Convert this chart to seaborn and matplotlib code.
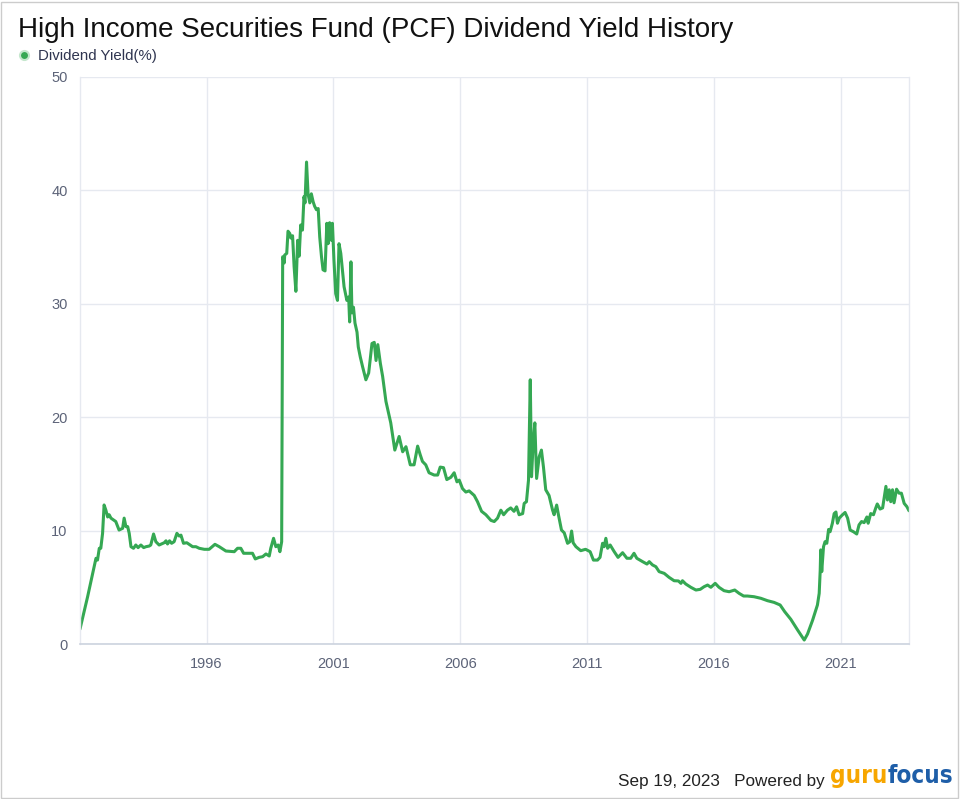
import numpy as np
import pandas as pd
import matplotlib
matplotlib.use("Agg")
import matplotlib.pyplot as plt
from matplotlib.lines import Line2D
from matplotlib.patches import Rectangle
import seaborn as sns

# ---------------- data ----------------
years = [
    1991.01, 1991.31, 1991.64, 1991.70, 1991.77, 1991.83, 1991.90, 1991.96, 1992.03, 1992.10,
    1992.16, 1992.23, 1992.42, 1992.55, 1992.69, 1992.75, 1992.82, 1992.89, 1992.95, 1993.02,
    1993.12, 1993.21, 1993.30, 1993.41, 1993.52, 1993.61, 1993.74, 1993.80, 1993.91, 1994.00,
    1994.13, 1994.33, 1994.40, 1994.46, 1994.54, 1994.62, 1994.72, 1994.83, 1994.92, 1994.99,
    1995.09, 1995.22, 1995.45, 1995.58, 1995.71, 1995.91, 1996.10, 1996.33, 1996.50, 1996.76,
    1997.09, 1997.22, 1997.35, 1997.46, 1997.81, 1997.92, 1998.07, 1998.21, 1998.34, 1998.47,
    1998.53, 1998.64, 1998.73, 1998.82, 1998.89, 1998.96, 1999.00, 1999.06, 1999.08, 1999.16,
    1999.21, 1999.28, 1999.32, 1999.39, 1999.45, 1999.52, 1999.59, 1999.65, 1999.71, 1999.78,
    1999.84, 1999.88, 1999.94, 2000.00, 2000.07, 2000.13, 2000.20, 2000.26, 2000.33, 2000.40,
    2000.46, 2000.53, 2000.59, 2000.67, 2000.74, 2000.79, 2000.85, 2000.92, 2000.96, 2001.02,
    2001.09, 2001.16, 2001.22, 2001.29, 2001.42, 2001.53, 2001.60, 2001.64, 2001.69, 2001.73,
    2001.79, 2001.85, 2001.93, 2001.98, 2002.06, 2002.15, 2002.28, 2002.39, 2002.52, 2002.61,
    2002.68, 2002.75, 2002.85, 2002.94, 2003.07, 2003.13, 2003.26, 2003.42, 2003.59, 2003.73,
    2003.86, 2004.03, 2004.18, 2004.32, 2004.42, 2004.51, 2004.64, 2004.77, 2004.97, 2005.11,
    2005.21, 2005.34, 2005.47, 2005.63, 2005.76, 2005.87, 2005.96, 2006.09, 2006.22, 2006.35,
    2006.55, 2006.68, 2006.84, 2007.01, 2007.21, 2007.34, 2007.47, 2007.60, 2007.71, 2007.86,
    2007.99, 2008.12, 2008.22, 2008.32, 2008.46, 2008.52, 2008.61, 2008.69, 2008.76, 2008.81,
    2008.87, 2008.94, 2009.01, 2009.11, 2009.20, 2009.28, 2009.37, 2009.50, 2009.64, 2009.70,
    2009.80, 2009.87, 2009.99, 2010.10, 2010.23, 2010.32, 2010.39, 2010.45, 2010.56, 2010.75,
    2010.94, 2011.12, 2011.25, 2011.41, 2011.51, 2011.61, 2011.67, 2011.74, 2011.81, 2011.91,
    2012.07, 2012.22, 2012.40, 2012.57, 2012.72, 2012.85, 2012.96, 2013.19, 2013.36, 2013.45,
    2013.58, 2013.71, 2013.84, 2014.04, 2014.23, 2014.43, 2014.60, 2014.70, 2014.76, 2014.89,
    2015.09, 2015.29, 2015.46, 2015.61, 2015.75, 2015.88, 2016.05, 2016.20, 2016.40, 2016.60,
    2016.82, 2016.99, 2017.17, 2017.32, 2017.58, 2017.85, 2018.11, 2018.37, 2018.61, 2018.79,
    2019.03, 2019.30, 2019.56, 2019.69, 2019.89, 2020.08, 2020.15, 2020.19, 2020.21, 2020.25,
    2020.32, 2020.38, 2020.45, 2020.52, 2020.58, 2020.67, 2020.74, 2020.81, 2020.87, 2020.94,
    2021.07, 2021.17, 2021.27, 2021.37, 2021.50, 2021.63, 2021.72, 2021.82, 2021.92, 2022.03,
    2022.08, 2022.18, 2022.29, 2022.38, 2022.44, 2022.55, 2022.65, 2022.71, 2022.78, 2022.84,
    2022.91, 2022.97, 2023.04, 2023.10, 2023.20, 2023.30, 2023.39, 2023.50, 2023.61, 2023.69,
]
dividend_yield = [
    1.32, 4.17, 7.56, 7.40, 8.44, 8.44, 9.76, 12.26, 11.80, 11.20,
    11.40, 11.10, 10.80, 10.05, 10.20, 11.10, 10.35, 10.35, 9.76, 8.58,
    8.44, 8.73, 8.50, 8.73, 8.50, 8.58, 8.64, 8.73, 9.70, 9.02,
    8.73, 8.93, 9.10, 8.82, 9.10, 8.88, 9.02, 9.76, 9.52, 9.60,
    8.88, 8.93, 8.58, 8.58, 8.44, 8.35, 8.35, 8.79, 8.58, 8.20,
    8.14, 8.44, 8.44, 8.00, 8.00, 7.50, 7.64, 7.70, 7.94, 7.76,
    8.44, 9.32, 8.58, 8.73, 8.14, 9.02, 34.15, 33.60, 34.30, 34.45,
    36.40, 36.20, 35.80, 36.00, 33.30, 31.10, 35.60, 34.20, 36.95, 36.50,
    39.45, 38.90, 42.50, 39.70, 38.90, 39.70, 39.00, 38.60, 38.30, 38.40,
    35.90, 34.15, 33.00, 32.90, 37.10, 35.30, 37.15, 35.60, 37.10, 33.90,
    30.90, 30.30, 35.30, 34.45, 31.50, 30.30, 30.60, 28.40, 33.70, 29.20,
    29.70, 28.30, 27.50, 26.20, 25.30, 24.45, 23.30, 23.90, 26.50, 26.60,
    25.00, 26.40, 24.75, 23.60, 21.40, 20.80, 19.50, 17.10, 18.30, 16.95,
    17.40, 15.80, 15.80, 17.45, 16.70, 16.10, 15.80, 15.10, 14.90, 14.90,
    15.60, 15.55, 14.50, 14.70, 15.10, 14.30, 14.45, 13.70, 13.40, 13.50,
    13.10, 12.55, 11.70, 11.40, 10.90, 10.80, 11.10, 11.80, 11.40, 11.80,
    12.00, 11.70, 12.10, 11.40, 11.50, 12.40, 12.55, 14.45, 23.30, 14.75,
    17.55, 19.50, 14.60, 16.50, 17.10, 15.60, 13.60, 13.10, 11.80, 11.40,
    12.25, 11.40, 10.05, 9.80, 8.88, 9.02, 9.96, 8.93, 8.58, 8.23,
    8.35, 8.14, 7.40, 7.40, 7.64, 8.88, 8.58, 9.32, 8.44, 8.73,
    8.14, 7.64, 8.05, 7.56, 7.56, 8.00, 7.56, 7.26, 7.05, 7.26,
    6.97, 6.82, 6.38, 6.23, 5.88, 5.58, 5.56, 5.35, 5.58, 5.29,
    5.00, 4.76, 4.82, 5.05, 5.20, 5.00, 5.35, 5.00, 4.70, 4.61,
    4.76, 4.47, 4.23, 4.23, 4.17, 4.03, 3.82, 3.67, 3.44, 2.85,
    2.18, 1.23, 0.35, 0.88, 2.10, 3.44, 4.47, 6.50, 8.30, 6.38,
    8.58, 9.02, 8.88, 10.10, 9.90, 10.65, 11.50, 11.64, 10.65, 11.10,
    11.40, 11.60, 11.10, 10.05, 9.90, 9.70, 10.50, 10.80, 10.70, 11.20,
    10.65, 11.50, 11.40, 12.00, 12.35, 11.90, 12.00, 12.85, 13.90, 12.70,
    13.60, 12.55, 13.60, 12.45, 13.65, 13.30, 13.30, 12.40, 12.10, 11.75,
]
y_ticks = [0, 10, 20, 30, 40, 50]
x_ticks = [1996, 2001, 2006, 2011, 2016, 2021]
x_tick_labels = ["1996", "2001", "2006", "2011", "2016", "2021"]

title = "High Income Securities Fund (PCF) Dividend Yield History"
series_name = "Dividend Yield(%)"
date_text = "Sep 19, 2023"

df = pd.DataFrame({"year": years, "value": dividend_yield})

# ---------------- style ----------------
sns.set_theme(style="white")
plt.rcParams["font.family"] = ["Liberation Sans", "DejaVu Sans"]

GREEN = "#35a853"
GRID = "#e6e9f0"
SPINE = "#ccd3de"
TICK = "#5c6378"

W, H = 960, 799
fig = plt.figure(figsize=(W / 100, H / 100), dpi=100)
ax = fig.add_axes([80 / W, 1 - 644 / H, (909 - 80) / W, (644 - 77) / H])

sns.lineplot(data=df, x="year", y="value", ax=ax, color=GREEN, linewidth=2.2,
             legend=False, errorbar=None, sort=False)

ax.set_xlim(years[0], years[-1])
ax.set_ylim(0, 50)
ax.set_yticks(y_ticks)
ax.set_xticks(x_ticks)
ax.set_xticklabels(x_tick_labels)
ax.set_xlabel("")
ax.set_ylabel("")
ax.grid(True, color=GRID, linewidth=1.0)
ax.set_axisbelow(True)
for side in ["left", "right", "top"]:
    ax.spines[side].set_color(GRID)
    ax.spines[side].set_linewidth(1.0)
ax.spines["top"].set_visible(False)
ax.spines["bottom"].set_color(SPINE)
ax.spines["bottom"].set_linewidth(1.2)
ax.tick_params(axis="x", colors=GRID, length=5, width=1, labelcolor=TICK,
               labelsize=10.5, pad=4)
ax.tick_params(axis="y", length=0, labelcolor=TICK, labelsize=10.5, pad=9)

# title
fig.text(18 / W, 1 - 37 / H, title, fontsize=20, color="#111111",
         ha="left", va="baseline")

# legend
handle = Line2D([], [], marker="o", color=GREEN, linestyle="none", markersize=6.5,
                markeredgecolor="#c4e7cd", markeredgewidth=1.5)
fig.legend([handle], [series_name], loc="center left",
           bbox_to_anchor=(15 / W, 1 - 56 / H), frameon=False,
           fontsize=10.8, labelcolor="#2f3550", handletextpad=0.35,
           handlelength=1.2, borderpad=0, borderaxespad=0)

# footer
fig.text(825 / W, 1 - 786 / H, date_text + "   Powered by", fontsize=12.3,
         color="#222222", ha="right", va="baseline")

logo_kw = dict(ha="left", va="baseline", family=["DejaVu Sans"],
               fontweight="bold", fontstretch="condensed")
t1 = fig.text(830 / W, 1 - 783 / H, "guru", fontsize=20, color="#f7a600", **logo_kw)
fig.canvas.draw()
bb1 = t1.get_window_extent()
t2 = fig.text(bb1.x1 / W, 1 - 783 / H, "focus", fontsize=20, color="#1e5ea8", **logo_kw)
fig.canvas.draw()
bb2 = t2.get_window_extent()
scale = (953 - 830) / (bb2.x1 - bb1.x0)
t1.set_fontsize(20 * scale)
t2.set_fontsize(20 * scale)
fig.canvas.draw()
bb1 = t1.get_window_extent()
t2.set_position((bb1.x1 / W, 1 - 783 / H))

# outer border
fig.patches.append(Rectangle((1 / W, 1 / H), 957 / W, 796 / H,
                             transform=fig.transFigure, fill=False,
                             edgecolor="#cccccc", linewidth=1.0))

fig.savefig("out.png", dpi=100, facecolor="white")
